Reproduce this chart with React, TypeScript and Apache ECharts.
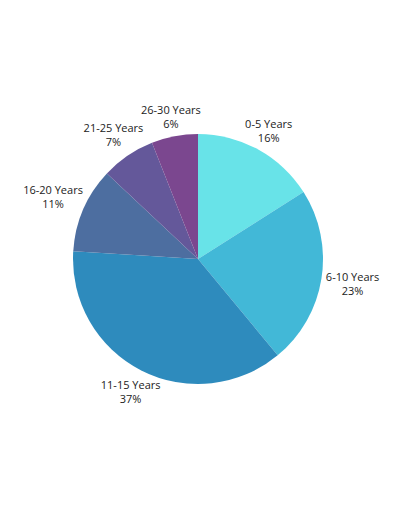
import React, { useEffect, useRef } from "react";
import * as echarts from "echarts";

const categories = ["0-5 Years", "6-10 Years", "11-15 Years", "16-20 Years", "21-25 Years", "26-30 Years"];
const values = [16, 23, 37, 11, 7, 6];
const colors = ["#68e3e8", "#42b8d7", "#2e8bbd", "#4d6ea0", "#64589a", "#7b478f"];

const CX = 198;
const CY = 259;
const R = 125;

export default function App() {
  const ref = useRef<HTMLDivElement>(null);
  useEffect(() => {
    document.body.style.margin = "0";
    const chart = echarts.init(ref.current!, null, { renderer: "svg" });
    const total = values.reduce((a, b) => a + b, 0);
    const mids: number[] = [];
    let acc = 0;
    values.forEach((v) => {
      mids.push(((acc + v / 2) / total) * Math.PI * 2);
      acc += v;
    });
    chart.setOption({
      animation: false,
      backgroundColor: "#ffffff",
      series: [
        {
          type: "pie",
          center: [CX, CY],
          radius: R,
          startAngle: 90,
          clockwise: true,
          data: categories.map((c, i) => ({ name: c, value: values[i], itemStyle: { color: colors[i] } })),
          label: {
            show: true,
            position: "outside",
            formatter: "{b}\n{d}%",
            fontFamily: "Open Sans",
            fontSize: 11,
            lineHeight: 14,
            color: "#222222",
            align: "center",
          },
          labelLine: { show: false, length: 6, length2: 0 },
          labelLayout: (params: any) => {
            const a = mids[params.dataIndex];
            const dx = Math.sin(a);
            const dy = -Math.cos(a);
            const w = params.labelRect.width / 2;
            const h = params.labelRect.height / 2;
            const d = R + 5 + Math.sqrt((dx * w) ** 2 + (dy * h) ** 2);
            return {
              x: CX + dx * d,
              y: CY + dy * d,
              align: "center",
              verticalAlign: "middle",
            };
          },
        },
      ],
    });
    return () => chart.dispose();
  }, []);
  return <div ref={ref} style={{ width: 400, height: 512 }} />;
}
